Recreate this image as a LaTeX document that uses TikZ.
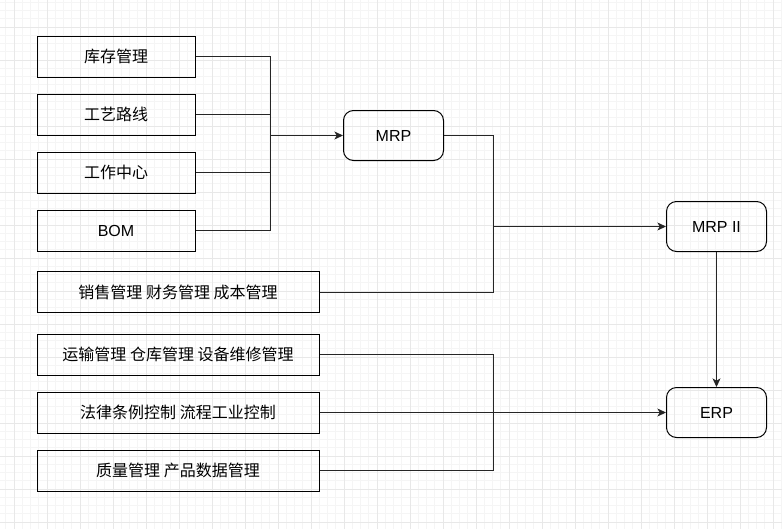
\documentclass[tikz,border=0pt]{standalone}
\usepackage{fontspec}
\newfontfamily\cjk{Noto Sans CJK SC}
\newfontfamily\latn{Liberation Sans}
\usetikzlibrary{arrows.meta,positioning}

\begin{document}
\begin{tikzpicture}[x=0.75pt,y=-0.75pt,
  box/.style={draw,line width=0.75pt,minimum width=118.5pt,minimum height=30.75pt,inner sep=0pt,font=\cjk\fontsize{12}{14}\selectfont},
  wbox/.style={box,minimum width=211.5pt},
  rbox/.style={box,rounded corners=7.5pt,minimum width=75pt,minimum height=37.5pt,font=\latn\fontsize{12}{14}\selectfont},
  wire/.style={line width=0.75pt,draw=black!85},
  minorgrid/.style={line width=0.5pt,draw=black!4},
  majorgrid/.style={line width=0.6pt,draw=black!9},
  >={Stealth[length=6.5pt,width=6pt,inset=1.8pt]}]
\useasboundingbox (0,0) rectangle (782,529);
% grid
\foreach \i in {0,...,98} {
  \draw[minorgrid] ({-19+\i*8.25},0) -- ++(0,529);
  \draw[minorgrid] (0,{-6+\i*8.25}) -- ++(782,0);
}
\foreach \i in {0,...,24} {
  \draw[majorgrid] ({-19+\i*33},0) -- ++(0,529);
  \draw[majorgrid] (0,{-6+\i*33}) -- ++(782,0);
}
% left column
\node[box] (kucun) at (116,56.5) {库存管理};
\node[box] (gongyi) at (116,114.5) {工艺路线};
\node[box] (gongzuo) at (116,172.5) {工作中心};
\node[box,font=\latn\fontsize{12}{14}\selectfont] (bom) at (116,230.5) {BOM};
\node[wbox] (xiaoshou) at (178,292) {销售管理 财务管理 成本管理};
\node[wbox] (yunshu) at (178,354.5) {运输管理 仓库管理 设备维修管理};
\node[wbox] (falv) at (178,412.5) {法律条例控制 流程工业控制};
\node[wbox] (zhiliang) at (178,470.5) {质量管理 产品数据管理};
% right side
\node[rbox] (mrp) at (393.5,135.5) {MRP};
\node[rbox] (mrp2) at (716.5,226.5) {MRP II};
\node[rbox] (erp) at (716.5,412.5) {ERP};
\coordinate (busA) at (270,135.5);
\coordinate (busB) at (493,226.5);
\coordinate (busC) at (493,412.5);
\draw[wire] (kucun.east) -| (busA); \draw[wire] (gongyi.east) -| (busA);
\draw[wire] (gongzuo.east) -| (busA); \draw[wire] (bom.east) -| (busA);
\draw[wire,->] (busA) -- (mrp);
\draw[wire] (mrp.east) -| (busB); \draw[wire] (xiaoshou.east) -| (busB);
\draw[wire,->] (busB) -- (mrp2);
\draw[wire,->] (mrp2) -- (erp);
\draw[wire] (yunshu.east) -| (busC); \draw[wire] (zhiliang.east) -| (busC);
\draw[wire,->] (falv) -- (erp);
\end{tikzpicture}
\end{document}
